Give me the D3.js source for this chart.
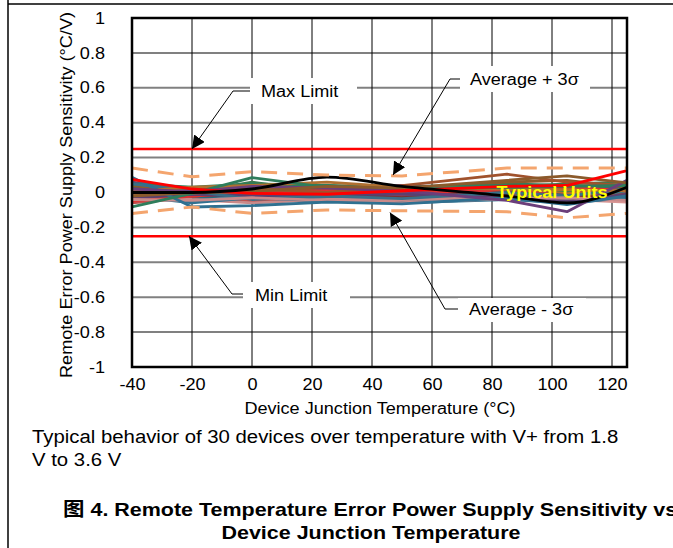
<!DOCTYPE html>
<html><head><meta charset="utf-8">
<script src="https://cdn.jsdelivr.net/npm/d3@7"></script>
<style>
body{margin:0;background:#fff;}
svg{display:block;font-family:"Liberation Sans",Arial,"Noto Sans CJK SC",sans-serif;}
</style></head><body>
<svg id="chart" width="673" height="548"></svg>
<script>
// ---- data ----
const temps = [-40, -20, 0, 25, 50, 85, 105, 125];
const xTicks = [-40, -20, 0, 20, 40, 60, 80, 100, 120];
const yTicks = [-1, -0.8, -0.6, -0.4, -0.2, 0, 0.2, 0.4, 0.6, 0.8, 1];
const yTickLabels = ["-1", "-0.8", "-0.6", "-0.4", "-0.2", "0", "0.2", "0.4", "0.6", "0.8", "1"];
const maxLimit = 0.25;
const minLimit = -0.25;
const avgPlus3s  = [0.140, 0.090, 0.120, 0.100, 0.095, 0.140, 0.140, 0.140];
const avgMinus3s = [-0.120, -0.083, -0.120, -0.100, -0.105, -0.110, -0.145, -0.120];
const deviceColors = [
  "#4a6a8a", "#4f6228", "#1f3864", "#d99694", "#c0504d", "#276a7c", "#2e7d5b", "#974806",
  "#60497a", "#c04040", "#317a8f", "#3d7a4f", "#b86b2e", "#7a2f2f", "#c98a8a", "#8b5a2b",
  "#31708f", "#2e7d5b", "#e03030", "#5a4070", "#3a6f88", "#a0522d", "#c98a8a", "#b07030",
  "#2f7090", "#2e7d5b", "#6b3e7a", "#8b5a2b", "#ff0000", "#000000"
];
const deviceValues = [
  [0.030, -0.020, -0.010, -0.010, -0.010, 0.010, 0.020, 0.000],
  [0.030, 0.020, 0.010, 0.020, 0.000, 0.010, 0.030, 0.000],
  [-0.010, -0.020, 0.000, -0.010, -0.020, -0.010, 0.010, -0.030],
  [-0.050, -0.030, -0.040, -0.030, -0.045, -0.020, -0.040, -0.055],
  [-0.060, -0.030, -0.050, -0.030, -0.020, -0.010, -0.030, -0.040],
  [0.040, -0.040, 0.000, -0.040, -0.030, 0.020, -0.010, 0.030],
  [0.010, 0.010, -0.020, 0.010, 0.030, 0.050, 0.040, 0.020],
  [-0.030, -0.010, -0.010, -0.020, 0.000, 0.040, 0.020, -0.010],
  [0.060, 0.020, 0.000, 0.030, 0.040, 0.020, 0.000, 0.040],
  [-0.025, -0.010, 0.010, 0.020, 0.005, 0.000, 0.010, 0.000],
  [0.000, -0.050, -0.020, -0.030, -0.050, -0.020, -0.040, 0.010],
  [0.020, 0.000, 0.060, 0.000, 0.010, 0.030, 0.050, 0.060],
  [-0.010, 0.010, 0.020, 0.040, 0.010, 0.030, 0.000, -0.020],
  [-0.040, -0.020, 0.000, 0.000, -0.030, 0.000, -0.020, -0.030],
  [0.010, -0.040, -0.060, -0.040, -0.040, -0.030, -0.050, -0.020],
  [0.040, 0.000, 0.030, 0.010, 0.020, 0.060, 0.070, 0.030],
  [-0.020, -0.060, -0.030, -0.050, -0.060, -0.040, -0.060, -0.030],
  [0.050, 0.030, 0.050, 0.040, 0.030, 0.040, 0.010, 0.050],
  [-0.050, -0.020, 0.000, 0.010, -0.010, 0.020, 0.030, 0.010],
  [-0.030, -0.010, -0.020, -0.010, -0.010, -0.020, -0.050, -0.010],
  [0.050, 0.010, -0.040, -0.020, -0.035, 0.000, -0.020, 0.020],
  [0.010, -0.005, 0.020, 0.000, 0.040, 0.105, 0.060, 0.040],
  [-0.040, -0.045, -0.030, -0.045, -0.058, -0.035, -0.030, -0.045],
  [0.005, 0.030, 0.040, 0.060, 0.030, 0.020, 0.015, 0.010],
  [0.088, -0.083, -0.075, -0.055, -0.065, -0.030, -0.070, -0.020],
  [-0.083, -0.005, 0.085, 0.030, 0.020, 0.030, 0.035, 0.040],
  [0.020, 0.005, 0.035, 0.025, 0.010, -0.045, -0.110, 0.070],
  [-0.020, 0.000, 0.005, 0.035, 0.025, 0.070, 0.095, 0.055],
  [0.075, 0.020, -0.005, -0.010, 0.010, 0.035, 0.040, 0.125],
  [0.000, 0.000, 0.020, 0.088, 0.035, -0.020, -0.060, 0.030]
];
const annotations = [
  {text: "Max Limit",      target: [-20, 0.25],  elbow: [233, 91],  tx: 261, ty: 91,  box: [250, 78, 107, 26]},
  {text: "Average + 3\u03c3", target: [47, 0.10], elbow: [450, 79], tx: 470, ty: 79,  box: [460, 66, 130, 26]},
  {text: "Min Limit",      target: [-21, -0.25], elbow: [232, 294], tx: 255, ty: 295, box: [243, 282, 107, 26]},
  {text: "Average - 3\u03c3", target: [46, -0.115], elbow: [445, 309], tx: 469, ty: 309, box: [458, 298, 128, 24]}
];

// ---- layout ----
const svg = d3.select("#chart");
const L = 132, R = 627, T = 18, B = 367;
const x = d3.scaleLinear().domain([-40, 125]).range([L, R]);
const y = d3.scaleLinear().domain([-1, 1]).range([B, T]);
const STRETCH = 1.13;

// page frame
svg.append("line").attr("x1", 8).attr("x2", 673).attr("y1", 4).attr("y2", 4).attr("stroke", "#000").attr("stroke-width", 1.5);
svg.append("line").attr("x1", 8).attr("x2", 8).attr("y1", 0).attr("y2", 548).attr("stroke", "#000").attr("stroke-width", 1.5);

// gridlines
svg.append("g").selectAll("line").data(yTicks).join("line")
  .attr("x1", L).attr("x2", R).attr("y1", d => y(d)).attr("y2", d => y(d))
  .attr("stroke", "#808080").attr("stroke-width", 2);
svg.append("g").selectAll("line").data(xTicks).join("line")
  .attr("x1", d => x(d)).attr("x2", d => x(d)).attr("y1", T).attr("y2", B)
  .attr("stroke", "#000").attr("stroke-width", 1);

// annotation boxes (white, hide grid)
svg.append("g").selectAll("rect").data(annotations).join("rect")
  .attr("x", d => d.box[0]).attr("y", d => d.box[1]).attr("width", d => d.box[2]).attr("height", d => d.box[3])
  .attr("fill", "#fff");

// limit lines
svg.append("g").selectAll("line").data([maxLimit, minLimit]).join("line")
  .attr("x1", L).attr("x2", R).attr("y1", d => y(d)).attr("y2", d => y(d))
  .attr("stroke", "#ff0000").attr("stroke-width", 2.5);

// device lines
const line = d3.line().x((d, i) => x(temps[i])).y(d => y(d));
const smooth = d3.line().x((d, i) => x(temps[i])).y(d => y(d)).curve(d3.curveMonotoneX);
svg.append("g").selectAll("path").data(deviceValues).join("path")
  .attr("d", (d, i) => deviceColors[i] === "#000000" ? smooth(d) : line(d))
  .attr("fill", "none").attr("stroke", (d, i) => deviceColors[i])
  .attr("stroke-width", 2.8).attr("stroke-linejoin", "round");

// avg +/- 3 sigma
svg.append("g").selectAll("path").data([avgPlus3s, avgMinus3s]).join("path")
  .attr("d", line).attr("fill", "none").attr("stroke", "#f4a56e")
  .attr("stroke-width", 3).attr("stroke-dasharray", "16,10");

// plot border
svg.append("rect").attr("x", L).attr("y", T).attr("width", R - L).attr("height", B - T)
  .attr("fill", "none").attr("stroke", "#000").attr("stroke-width", 2.5);

// axes
const xAxis = svg.append("g").attr("transform", `translate(0,${B})`)
  .call(d3.axisBottom(x).tickValues(xTicks).tickSize(0).tickPadding(12).tickFormat(d => String(d)));
xAxis.select(".domain").remove();
xAxis.selectAll("text").attr("font-size", 16).attr("fill", "#000").style("font-family", "'Liberation Sans',Arial,sans-serif");

const yAxis = svg.append("g").attr("transform", `translate(${L},0)`)
  .call(d3.axisLeft(y).tickValues(yTicks).tickSize(0).tickPadding(27).tickFormat((d, i) => yTickLabels[i]));
yAxis.select(".domain").remove();
yAxis.selectAll("text").attr("font-size", 16).attr("fill", "#000").style("font-family", "'Liberation Sans',Arial,sans-serif");

// axis titles
svg.append("text").attr("x", 380).attr("y", 414).attr("text-anchor", "middle")
  .attr("font-size", 16).text("Device Junction Temperature (\u00b0C)");
svg.append("text").attr("transform", `translate(72,195) rotate(-90)`).attr("text-anchor", "middle")
  .attr("font-size", 16).text("Remote Error Power Supply Sensitivity (\u00b0C/V)");

// annotation leaders + arrows
svg.append("defs").append("marker").attr("id", "arr").attr("viewBox", "0 0 10 10")
  .attr("refX", 10).attr("refY", 5).attr("markerWidth", 13).attr("markerHeight", 13)
  .attr("markerUnits", "userSpaceOnUse").attr("orient", "auto")
  .append("path").attr("d", "M0,0 L10,5 L0,10 z").attr("fill", "#000");
const ag = svg.append("g");
annotations.forEach(a => {
  ag.append("line").attr("x1", a.elbow[0]).attr("y1", a.elbow[1]).attr("x2", a.box[0]).attr("y2", a.elbow[1])
    .attr("stroke", "#000").attr("stroke-width", 1);
  ag.append("line").attr("x1", a.elbow[0]).attr("y1", a.elbow[1])
    .attr("x2", x(a.target[0])).attr("y2", y(a.target[1]))
    .attr("stroke", "#000").attr("stroke-width", 1).attr("marker-end", "url(#arr)");
  ag.append("text").attr("x", a.tx).attr("y", a.ty).attr("dy", "0.35em")
    .attr("font-size", 16).text(a.text);
});

// typical units
svg.append("text").attr("x", 552).attr("y", y(0)).attr("dy", "0.35em").attr("text-anchor", "middle")
  .attr("font-size", 16).attr("font-weight", "bold").attr("fill", "#ffff00").text("Typical Units");

// caption
svg.append("text").attr("x", 32).attr("y", 443).attr("font-size", 18)
  .text("Typical behavior of 30 devices over temperature with V+ from 1.8");
svg.append("text").attr("x", 32).attr("y", 466).attr("font-size", 18).text("V to 3.6 V");
svg.append("text").attr("x", 63).attr("y", 516).attr("font-size", 19).attr("font-weight", "bold")
  .text("\u56fe 4. Remote Temperature Error Power Supply Sensitivity vs");
svg.append("text").attr("x", 371).attr("y", 539).attr("font-size", 19).attr("font-weight", "bold")
  .attr("text-anchor", "middle").text("Device Junction Temperature");

// horizontal glyph stretch to match the reference's wider lettering
svg.selectAll("text").each(function() {
  const w = this.getComputedTextLength();
  if (w > 0) d3.select(this).attr("textLength", w * STRETCH).attr("lengthAdjust", "spacingAndGlyphs");
});
</script>
</body></html>
